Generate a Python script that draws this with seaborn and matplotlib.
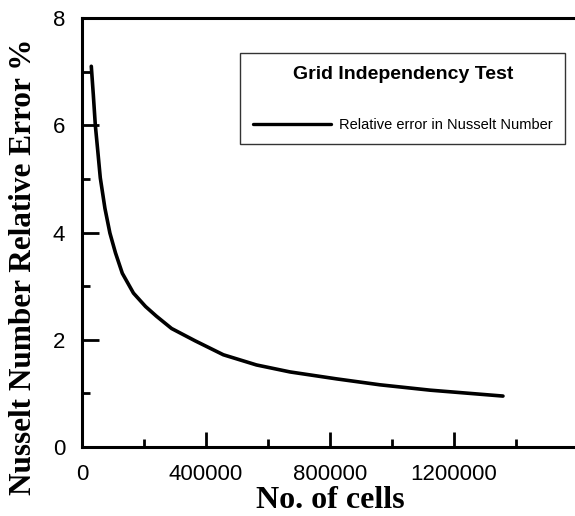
import seaborn as sns
import matplotlib.pyplot as plt
import pandas as pd
from matplotlib.ticker import MultipleLocator


# values
cells = [30000, 36500, 43000, 50600, 59000, 74000, 90000, 108000, 130000,
         166000, 205000, 240000, 289000, 365000, 456000, 563000, 671000, 822000,
         961000, 1123000, 1358000]
error = [7.10, 6.57, 6.00, 5.54, 5.02, 4.45, 3.99, 3.62, 3.24,
         2.87, 2.62, 2.44, 2.21, 1.98, 1.72, 1.53, 1.40, 1.27,
         1.16, 1.06, 0.95]

xtick_values = [0, 400000, 800000, 1200000]
xtick_labels = ["0", "400000", "800000", "1200000"]

legend_title = "Grid Independency Test"
series_name = "Relative error in Nusselt Number"

df = pd.DataFrame({"cells": cells, "error": error, "series": series_name})


#----------------------------------------------------------------------------------------------------
sns.set_style("ticks")
plt.rcParams['font.family'] = ['Liberation Sans', 'DejaVu Sans']
plt.rcParams['text.color'] = 'black'
plt.rcParams['axes.labelcolor'] = 'black'

fig = plt.figure(figsize=(5.75, 5.16), dpi=100)
ax = fig.add_axes([0.1426, 0.1337, 0.8626, 0.8314])

sns.lineplot(x="cells", y="error", hue="series", data=df, ax=ax,
             palette=["black"], linewidth=2.6, legend=True)

ax.set_xlim(0, 1600000)
ax.set_ylim(0, 8)

ax.xaxis.set_minor_locator(MultipleLocator(200000))
ax.yaxis.set_major_locator(MultipleLocator(2))
ax.yaxis.set_minor_locator(MultipleLocator(1))

ax.set_xticks(xtick_values)
ax.set_xticklabels(xtick_labels)

ax.tick_params(axis="both", which="both", direction="in", colors="black",
               labelsize=16, width=2)
ax.tick_params(axis="y", which="major", length=12, pad=12)
ax.tick_params(axis="y", which="minor", length=6)
ax.tick_params(axis="x", which="major", length=11, pad=12)
ax.tick_params(axis="x", which="minor", length=6)

for side in ["left", "bottom", "top"]:
    ax.spines[side].set_linewidth(2.2)
    ax.spines[side].set_color("black")
ax.spines["right"].set_visible(False)

ax.set_xlabel("No. of cells", family="Liberation Serif", fontweight="bold",
              fontsize=23, labelpad=1, color="black")
ax.set_ylabel("Nusselt Number Relative Error %", family="Liberation Serif",
              fontweight="bold", fontsize=22.5, color="black")
ax.yaxis.set_label_coords(-0.088, 0.42)

# Legend
#----------------------------------------------------------------------------------------------------
handles, labels = ax.get_legend_handles_labels()
leg = ax.legend(handles, labels, title=legend_title, loc="center",
                bbox_to_anchor=(0.647, 0.812), frameon=True, fancybox=False,
                edgecolor="black", handlelength=5.4, handletextpad=0.55,
                borderpad=0.85, labelspacing=2.4, borderaxespad=0,
                prop={"family": "Liberation Sans", "size": 10.5},
                labelcolor="black")
leg.get_frame().set_linewidth(1.0)
leg.get_title().set_fontproperties({"family": "Liberation Sans",
                                    "weight": "bold", "size": 14})
leg.get_title().set_color("black")
for line in leg.get_lines():
    line.set_linewidth(2.4)

plt.savefig("out.png", dpi=100)
